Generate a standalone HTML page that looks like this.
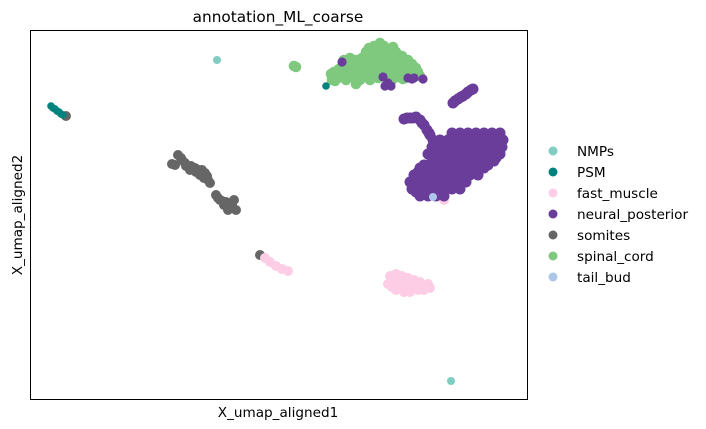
<!DOCTYPE html>
<html><head><meta charset="utf-8"><style>
html,body{margin:0;padding:0;background:#fff;width:706px;height:429px;overflow:hidden}
text{font-family:"DejaVu Sans","Liberation Sans",sans-serif;fill:#000}
</style></head><body>
<svg id="chart" width="706" height="429" xmlns="http://www.w3.org/2000/svg">
<text x="278" y="22" font-size="15.3" text-anchor="middle">annotation_ML_coarse</text>
<g id="marks"></g>
<rect x="30.5" y="30.5" width="497" height="369" fill="none" stroke="#000" stroke-width="1"/>
<text x="278" y="417" font-size="13.6" text-anchor="middle">X_umap_aligned1</text>
<text x="22" y="215" font-size="13.6" text-anchor="middle" transform="rotate(-90 22 215)">X_umap_aligned2</text>
<g id="legend"></g>
</svg>
<script>
const categories=["NMPs","PSM","fast_muscle","neural_posterior","somites","spinal_cord","tail_bud"];
const colors=["#80cdc1","#00827f","#fccde5","#6a3d9a","#666666","#7fc97f","#aec7e8"];
const somites=[[141,235],[144,234],[147,244],[150,241],[151,239],[154,236],[155,233],[159,229],[160,233],[165,227],[164,231],[169,224],[168,229],[173,221],[171,229],[174,226],[176,223],[177,219],[179,216],[185,204],[187,201],[189,199],[193,194],[191,198],[195,197],[199,192],[203,199],[205,189],[197,189],[201,195],[229,144],[35,283]];
const fastMuscle=[[234,141],[239,137],[245,133],[251,130],[257,128],[359,123],[365,125],[371,123],[377,121],[383,119],[389,117],[397,115],[357,115],[363,115],[369,115],[375,113],[381,111],[387,109],[393,109],[399,111],[365,109],[373,107],[379,107],[360,119],[367,119],[374,118],[381,115],[388,113],[395,113],[361,112],[369,111],[385,114],[413,199]];
const neuralPosterior=[[422,296],[424,298],[427,300],[430,302],[432,303],[435,305],[437,307],[440,309],[442,310],[373,280],[376,281],[379,281],[382,281],[385,282],[389,279],[391,276],[393,274],[396,269],[398,266],[399,264],[402,259],
[421,266],[429,266],[437,266],[445,266],[453,266],[461,266],[469,266],
[409,259],[417,259],[425,259],[433,259],[441,259],[449,259],[457,259],[465,259],[472,259],
[401,252],[409,252],[417,252],[425,252],[433,252],[441,252],[449,252],[457,252],[465,252],[471,252],
[397,245],[405,245],[413,245],[421,245],[429,245],[437,245],[445,245],[453,245],[461,245],[469,245],
[401,238],[409,238],[417,238],[425,238],[433,238],[441,238],[449,238],[455,238],[463,238],
[389,231],[397,231],[405,231],[413,231],[421,231],[429,231],[437,231],[445,231],[453,231],
[383,224],[391,224],[399,224],[407,224],[415,224],[423,224],[431,224],[439,224],[447,224],
[379,217],[387,217],[395,217],[403,217],[411,217],[419,217],[427,217],[435,217],
[381,210],[389,210],[397,210],[405,210],[413,210],[421,210],[429,210],
[389,203],[397,203],[405,203],[413,203],
[425,262],[433,262],[441,262],[449,262],[457,262],[465,262],
[413,255],[421,255],[429,255],[437,255],[445,255],[453,255],[461,255],[468,255],
[405,248],[413,248],[421,248],[429,248],[437,248],[445,248],[453,248],[461,248],[467,248],
[401,241],[409,241],[417,241],[425,241],[433,241],[441,241],[449,241],[457,241],[465,241],
[393,234],[401,234],[409,234],[417,234],[425,234],[433,234],[441,234],[449,234],[457,234],
[387,227],[395,227],[403,227],[411,227],[419,227],[427,227],[435,227],[443,227],
[383,220],[391,220],[399,220],[407,220],[415,220],[423,220],[431,220],
[385,213],[393,213],[401,213],[409,213],[417,213],[425,213],
[393,206],[401,206],[409,206],[385,207]];
const spinalCord=[[263,333],[265,332],[300,325],[303,327],[307,321],[301,319],[305,323],[313,339],[319,341],[325,339],[331,341],[317,333],[323,333],[329,333],[335,335],[341,339],[347,343],[353,343],[347,351],[353,353],[359,349],[365,347],[371,343],[377,339],[381,335],[385,331],[387,327],[389,323],[379,327],[373,331],[367,333],[361,337],[355,335],[349,331],[343,329],[337,327],[331,325],[325,325],[319,327],[335,347],[341,349],[355,329],[363,327],[369,325],[375,323],[361,319],[347,321],[339,319],[329,319],[315,319],[343,353],[365,341],[371,337],[325,315],[313,329],[359,343],[335,341],
[321,336],[327,336],[333,338],[339,344],[345,346],[351,348],[357,346],[363,344],[369,340],[375,336],[379,331],[383,329],[344,335],[350,338],[356,340],[362,332],[368,330],[374,327],[338,332],[332,330],[326,329],[320,322],[342,324],[350,325],[358,324],[366,322],[372,320],[349,356],[356,350],[362,352],[338,351],[308,330],[311,323],[304,318]];
const neuralOverlay=[[311,337],[354,313],[360,313],[357,316],[352,322],[377,321],[381,320],[383,321],[392,320]];
const psm=[[20,293],[22,291],[24,290],[26,288],[28,287],[30,285],[32,284],[295,313]];
const nmps=[[186,339],[420,18]];
const tailBud=[[402,202]];
const xs=v=>31+v; const ys=v=>399-v;
const NS="http://www.w3.org/2000/svg";
const marks=document.getElementById('marks');
function draw(arr,color,name,r){
  arr.forEach(p=>{
    const c=document.createElementNS(NS,'circle');
    c.setAttribute('cx',xs(p[0]));c.setAttribute('cy',ys(p[1]));c.setAttribute('r',r);c.setAttribute('fill',color);
    
    
    marks.appendChild(c);
  });
}
draw(somites,colors[4],'point-somites',5);
draw(fastMuscle,colors[2],'point-fast-muscle',5);
draw(neuralPosterior,colors[3],'point-neural-posterior',5.5);
draw(spinalCord,colors[5],'point-spinal-cord',5.3);
draw(neuralOverlay,colors[3],'point-neural-posterior',4.6);
draw(psm,colors[1],'point-psm',3.8);
draw(nmps,colors[0],'point-nmps',4);
draw(tailBud,colors[6],'point-tail-bud',4);
const lg=document.getElementById('legend');
categories.forEach((c,i)=>{
  const y=151+i*21;
  const g=document.createElementNS(NS,'g');
  
  
  const m=document.createElementNS(NS,'circle');
  m.setAttribute('cx',553);m.setAttribute('cy',y);m.setAttribute('r',4.5);m.setAttribute('fill',colors[i]);
  
  
  const t=document.createElementNS(NS,'text');
  t.setAttribute('x',577);t.setAttribute('y',y+5);t.setAttribute('font-size','13.6');t.textContent=c;
  
  
  g.appendChild(m);g.appendChild(t);lg.appendChild(g);
});
</script>
</body></html>
